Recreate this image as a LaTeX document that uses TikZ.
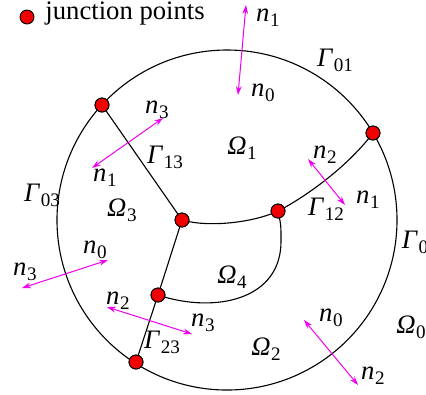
\documentclass[tikz,border=0pt]{standalone}
\usepackage{fontspec}
\setmainfont{Liberation Serif}
\usetikzlibrary{arrows.meta}
\definecolor{junction}{RGB}{240,0,0}
\definecolor{normal}{RGB}{240,0,240}
\newcommand{\sym}[2]{\textit{#1}\kern0.3pt\raisebox{-0.4ex}{\fontsize{8.6}{9}\selectfont #2}}
\tikzset{
  jpoint/.style={circle, draw=black, fill=junction, line width=0.4pt,
                 minimum size=6.3pt, inner sep=0pt},
  edge/.style={line width=0.5pt},
  nvec/.style={{Stealth[length=4pt,width=2.6pt]}-{Stealth[length=4pt,width=2.6pt]},
               draw=normal, line width=0.45pt},
  lab/.style={font=\fontsize{12}{14}\selectfont, inner sep=0pt},
}

\begin{document}
\begin{tikzpicture}[x=0.45pt, y=-0.45pt]
  \useasboundingbox (0,0) rectangle (426,394);

  % outer boundary
  \coordinate (c) at (227,220);
  \draw[edge] (c) circle[radius=76.5pt];

  % junction points
  \node[jpoint] (j1) at (102,105) {};
  \node[jpoint] (j2) at (373,133) {};
  \node[jpoint] (j3) at (182,220) {};
  \node[jpoint] (j4) at (278,211) {};
  \node[jpoint] (j5) at (158,295) {};
  \node[jpoint] (j6) at (136,362) {};

  % interfaces
  \draw[edge] (j1) -- (j3);
  \draw[edge] (j3) -- (j5);
  \draw[edge] (j5) -- (j6);
  \draw[edge] (j3.center) .. controls (210,228) and (255,222) .. (j4.center);
  \draw[edge] (j4.center) .. controls (300,200) and (345,170) .. (j2.center);
  \draw[edge] (j5.center) .. controls (215,314) and (282,300) .. (281,240)
                          .. controls (281,225) .. (j4.center);
  \foreach \j in {j1,j2,j3,j4,j5,j6}
    \node[jpoint] at (\j) {};

  % normal vectors
  \foreach \i/\a/\b in {1/{246,5}/{238,95}, 2/{163,118}/{92,168}, 3/{308,159}/{345,205},
                        4/{108,260}/{22,288}, 5/{107,307}/{192,334}, 6/{304,320}/{358,385}}
  {
    \coordinate (v\i a) at (\a);
    \coordinate (v\i b) at (\b);
    \draw[nvec] (v\i a) -- (v\i b);
  }

  % labels
  \node[lab] (n1t) at (268,18) {\sym{n}{1}};
  \node[lab] (n0t) at (263,93) {\sym{n}{0}};
  \node[lab] (g01) at (335,60) {\sym{Γ}{01}};
  \node[lab] (o1)  at (242,148) {\sym{Ω}{1}};
  \node[lab] (n2r) at (325,155) {\sym{n}{2}};
  \node[lab] (n1r) at (368,200) {\sym{n}{1}};
  \node[lab] (g12) at (326,209) {\sym{Γ}{12}};
  \node[lab] (g0)  at (415,242) {\sym{Γ}{0}};
  \node[lab] (n3u) at (157,110) {\sym{n}{3}};
  \node[lab] (n1u) at (105,178) {\sym{n}{1}};
  \node[lab] (g13) at (165,157) {\sym{Γ}{13}};
  \node[lab] (g03) at (42,195) {\sym{Γ}{03}};
  \node[lab] (o3)  at (122,210) {\sym{Ω}{3}};
  \node[lab] (n0l) at (95,250) {\sym{n}{0}};
  \node[lab] (n3l) at (25,272) {\sym{n}{3}};
  \node[lab] (n2m) at (118,301) {\sym{n}{2}};
  \node[lab] (n3m) at (203,323) {\sym{n}{3}};
  \node[lab] (g23) at (162,342) {\sym{Γ}{23}};
  \node[lab] (o4)  at (232,277) {\sym{Ω}{4}};
  \node[lab] (n0b) at (331,318) {\sym{n}{0}};
  \node[lab] (o2)  at (266,349) {\sym{Ω}{2}};
  \node[lab] (o0)  at (411,327) {\sym{Ω}{0}};
  \node[lab] (n2b) at (373,376) {\sym{n}{2}};

  % legend
  \node[jpoint] (leg) at (27,17) {};
  \node[lab, anchor=west] (legtext) at (45,14) {junction points};
\end{tikzpicture}
\end{document}
